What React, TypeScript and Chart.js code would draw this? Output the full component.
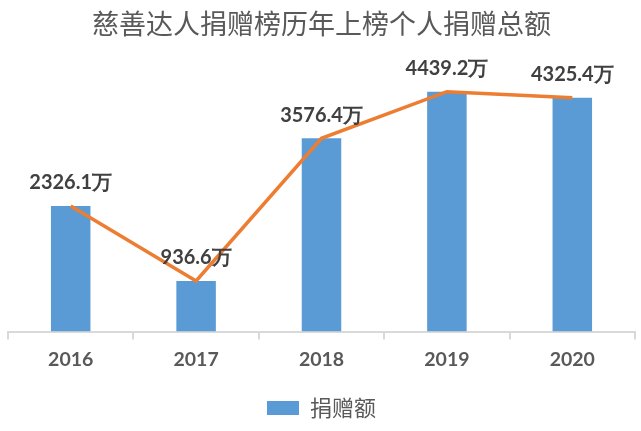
import React, { useEffect, useRef } from "react";
import { Chart, registerables } from "chart.js";

Chart.register(...registerables);

const categories = ["2016", "2017", "2018", "2019", "2020"];
const donations = [2326.1, 936.6, 3576.4, 4439.2, 4325.4];
const valueSuffix = "万";
const titleText = "慈善达人捐赠榜历年上榜个人捐赠总额";
const seriesName = "捐赠额";

const labelPlugin = {
  id: "barLabels",
  afterDatasetsDraw(chart: any) {
    const { ctx } = chart;
    const meta = chart.getDatasetMeta(0);
    ctx.save();
    ctx.font = "bold 20px Lato, 'Liberation Sans', sans-serif";
    ctx.fillStyle = "#404040";
    ctx.textAlign = "center";
    ctx.textBaseline = "middle";
    meta.data.forEach((el: any, i: number) => {
      const txt = donations[i].toFixed(1) + valueSuffix;
      ctx.fillText(txt, el.x, el.y - 23);
    });
    ctx.restore();
  },
};

export default function App() {
  const ref = useRef<HTMLCanvasElement | null>(null);
  useEffect(() => {
    document.body.style.margin = "0";
    const chart = new Chart(ref.current as HTMLCanvasElement, {
      type: "bar",
      data: {
        labels: categories,
        datasets: [
          {
            type: "bar",
            label: seriesName,
            data: donations,
            backgroundColor: "#5B9BD5",
            barPercentage: 0.315,
            categoryPercentage: 1,
            order: 2,
          },
          {
            type: "line",
            label: "line",
            data: donations,
            borderColor: "#ED7D31",
            borderWidth: 3.5,
            pointRadius: 0,
            tension: 0,
            order: 1,
          } as any,
        ],
      },
      options: {
        responsive: false,
        animation: false,
        layout: { padding: { left: 8, right: 6, top: 0, bottom: 2 } },
        plugins: {
          title: {
            display: true,
            text: titleText,
            color: "#595959",
            font: { size: 27, family: "'Noto Sans CJK SC', serif", weight: "normal" },
            padding: { top: 8, bottom: 21 },
          },
          legend: {
            display: true,
            position: "bottom",
            labels: {
              filter: (item: any) => item.text === seriesName,
              boxWidth: 32,
              boxHeight: 14,
              color: "#595959",
              font: { size: 22, family: "'Noto Sans CJK SC', serif" },
              padding: 18,
            },
          },
          tooltip: { enabled: false },
        },
        scales: {
          x: {
            grid: {
              display: true,
              drawOnChartArea: false,
              offset: true,
              tickLength: 8,
              color: "#D9D9D9",
              lineWidth: 2,
            },
            border: { color: "#D9D9D9", width: 2 },
            ticks: {
              color: "#595959",
              padding: 8,
              font: { size: 19.5, weight: "bold", family: "Lato, 'Liberation Sans', sans-serif" },
            },
          },
          y: {
            display: false,
            min: 0,
            max: 5000,
          },
        },
      },
      plugins: [labelPlugin],
    });
    return () => chart.destroy();
  }, []);
  return (
    <div style={{ width: 641, height: 431 }}>
      <canvas ref={ref} width={641} height={431} />
    </div>
  );
}
